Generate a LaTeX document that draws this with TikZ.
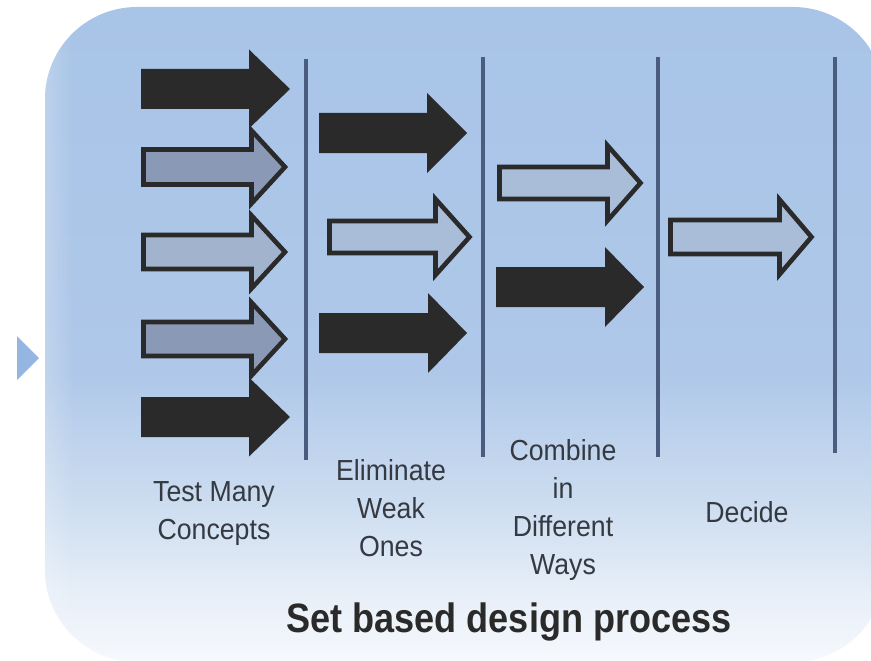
\documentclass[tikz,border=0pt]{standalone}
\usepackage{fontspec}
\newfontfamily\lblfont[FakeStretch=0.92]{Liberation Sans}
\newfontfamily\ttlfont[FakeStretch=0.88]{Liberation Sans}
\usetikzlibrary{fadings}

\definecolor{bgtop}{RGB}{168,196,231}
\definecolor{bgblue}{RGB}{175,200,233}
\definecolor{bglow}{RGB}{205,221,240}
\definecolor{bgpale}{RGB}{232,239,248}
\definecolor{bgbot}{RGB}{246,249,253}
\definecolor{ink}{RGB}{42,42,42}
\definecolor{divider}{RGB}{74,93,126}
\definecolor{fillgray}{RGB}{138,154,182}
\definecolor{fillmid}{RGB}{162,179,206}
\definecolor{filllight}{RGB}{170,189,216}
\definecolor{labelink}{RGB}{52,57,66}
\definecolor{marker}{RGB}{150,182,226}

% vertical panel shading: blue on top, fading to white at the bottom
\pgfdeclareverticalshading{panelshade}{100bp}{%
  color(0bp)=(bgbot); color(25bp)=(bgbot); color(30bp)=(bgpale);
  color(37bp)=(bglow); color(47bp)=(bgblue); color(75bp)=(bgtop);
  color(100bp)=(bgtop)}

% block arrow outline: left end, head start, tip, centre y, body half height, head half height
\newcommand{\arrowpath}[6]{(#1,#4-#5) -- (#2,#4-#5) -- (#2,#4-#6) -- (#3,#4)
  -- (#2,#4+#6) -- (#2,#4+#5) -- (#1,#4+#5) -- cycle}

\begin{document}
\begin{tikzpicture}[x=1pt,y=-1pt,
  solidarrow/.style={fill=ink},
  hollowarrow/.style={draw=ink, line width=4.6pt, line join=miter},
  divline/.style={draw=divider, line width=4.6pt},
  steplabel/.style={font=\lblfont\fontsize{29}{38}\selectfont, text=labelink,
    align=center, inner sep=0pt, anchor=base},
  titlelabel/.style={font=\ttlfont\bfseries\fontsize{41}{48}\selectfont, text=ink,
    inner sep=0pt, anchor=base}]
\useasboundingbox (0,0) rectangle (871,661);
\clip (0,0) rectangle (871,661);
\fill[white] (0,0) rectangle (871,661);

% panel, with a soft light rim along its left side
\shade[shading=panelshade, rounded corners=92pt] (45,7) rectangle (885,662);
\begin{scope}
  \clip[rounded corners=92pt] (45,7) rectangle (885,662);
  \fill[white, fill opacity=0.22, path fading=east] (45,0) rectangle (74,661);
\end{scope}

% small marker on the left
\fill[marker] (17,336) -- (39,358) -- (17,380) -- cycle;

% dividers between the stages
\draw[divline] (306,59) -- (306,460);
\draw[divline] (483,57) -- (483,457);
\draw[divline] (658,57) -- (658,457);
\draw[divline] (835,57) -- (835,453);

% stage 1: many concepts
\fill[solidarrow] \arrowpath{141}{249}{290}{89}{20}{39.5};
\filldraw[hollowarrow, fill=fillgray] \arrowpath{143.5}{251.5}{285}{167}{17.5}{36.5};
\filldraw[hollowarrow, fill=fillmid] \arrowpath{143.5}{251.5}{285}{252}{17}{36.5};
\filldraw[hollowarrow, fill=fillgray] \arrowpath{143.5}{251.5}{285}{339}{17}{36.5};
\fill[solidarrow] \arrowpath{141}{249}{290}{417}{20}{39.5};

% stage 2: weak ones removed
\fill[solidarrow] \arrowpath{319}{427}{467}{133}{20}{40};
\filldraw[hollowarrow, fill=filllight] \arrowpath{329.5}{435.5}{469.5}{237}{16}{38};
\fill[solidarrow] \arrowpath{319}{428}{467}{333}{20}{40};

% stage 3: combined
\filldraw[hollowarrow, fill=filllight] \arrowpath{499.5}{607.5}{640.5}{183}{16}{37.5};
\fill[solidarrow] \arrowpath{496}{605}{644}{287}{20}{40};

% stage 4: decision
\filldraw[hollowarrow, fill=filllight] \arrowpath{670.5}{779.5}{811.5}{237}{17}{37.5};

% stage labels (anchored at the baseline of their last line)
\node[steplabel] (test) at (214,539) {Test Many\\Concepts};
\node[steplabel] (elim) at (391,556) {Eliminate\\Weak\\Ones};
\node[steplabel] (comb) at (563,574) {Combine\\in\\Different\\Ways};
\node[steplabel] (decide) at (747,522) {Decide};

% caption
\node[titlelabel] (caption) at (509,632) {Set based design process};
\end{tikzpicture}
\end{document}
